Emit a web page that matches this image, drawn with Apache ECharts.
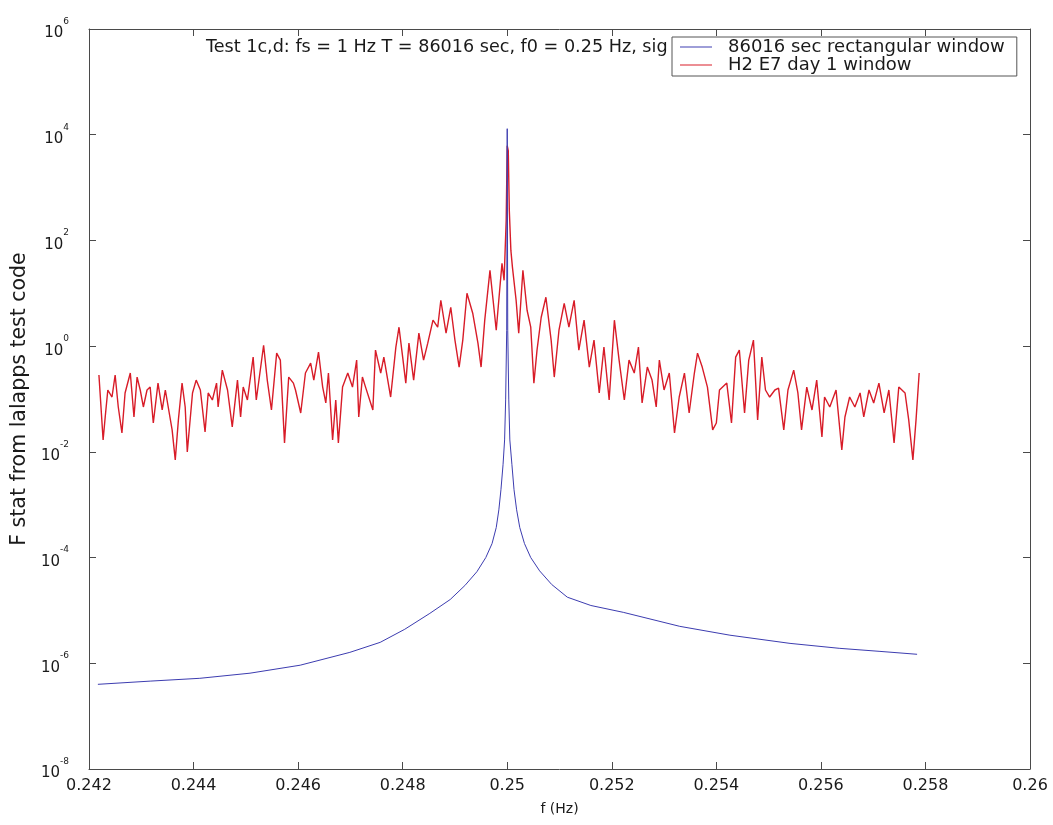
<!DOCTYPE html>
<html>
<head>
<meta charset="utf-8">
<title>F statistic vs frequency</title>
<script src="https://cdn.jsdelivr.net/npm/echarts@6/dist/echarts.min.js"></script>
<style>
  html, body { margin: 0; padding: 0; background: #fff; }
  #chart { width: 1053px; height: 825px; }
</style>
</head>
<body>
<div id="chart"></div>
<script>
// Frequency grid (Hz) and F statistic for the 86016 s rectangular window
const freqRect = [
  0.24217, 0.24317, 0.24412, 0.24508, 0.24604, 0.24699, 0.24757, 0.24804,
  0.24852, 0.24891, 0.24919, 0.24942, 0.24959, 0.24971, 0.24979, 0.24984,
  0.24988, 0.24992, 0.24995, 0.24997, 0.24999, 0.25000, 0.25001, 0.25003,
  0.25005, 0.25009, 0.25013, 0.25018, 0.25024, 0.25033, 0.25045, 0.25062,
  0.25085, 0.25115, 0.25160, 0.25222, 0.25330, 0.25426, 0.25541, 0.25635,
  0.25713, 0.25784
];
const fstatRect = [
  4.0e-7, 4.6e-7, 5.2e-7, 6.5e-7, 9.2e-7, 1.61e-6, 2.49e-6, 4.4e-6,
  8.8e-6, 1.61e-5, 2.96e-5, 5.4e-5, 1.0e-4, 1.84e-4, 3.7e-4, 8.0e-4,
  1.92e-3, 5.7e-3, 0.0168, 0.096, 2.0, 1.3e4, 2.0, 0.096,
  0.0168, 5.7e-3, 1.92e-3, 8.0e-4, 3.7e-4, 1.84e-4, 1.0e-4, 5.6e-5,
  3.1e-5, 1.78e-5, 1.24e-5, 9.2e-6, 5.0e-6, 3.4e-6, 2.38e-6, 1.92e-6,
  1.68e-6, 1.48e-6
];

// Frequency grid (Hz) and F statistic for the H2 E7 day 1 window
const freqDay1 = [
  0.24219, 0.24227, 0.24231, 0.24236, 0.24244, 0.24250, 0.24256, 0.24263,
  0.24269, 0.24279, 0.24286, 0.24292, 0.24298, 0.24304, 0.24311, 0.24317,
  0.24323, 0.24332, 0.24340, 0.24346, 0.24359, 0.24365, 0.24371, 0.24378,
  0.24384, 0.24388, 0.24398, 0.24405, 0.24413, 0.24422, 0.24428, 0.24436,
  0.24444, 0.24447, 0.24455, 0.24465, 0.24474, 0.24484, 0.24490, 0.24495,
  0.24503, 0.24514, 0.24520, 0.24534, 0.24541, 0.24549, 0.24559, 0.24566,
  0.24574, 0.24582, 0.24591, 0.24595, 0.24605, 0.24614, 0.24624, 0.24630,
  0.24639, 0.24647, 0.24653, 0.24658, 0.24666, 0.24672, 0.24677, 0.24685,
  0.24695, 0.24704, 0.24712, 0.24716, 0.24723, 0.24729, 0.24743, 0.24748,
  0.24758, 0.24764, 0.24777, 0.24787, 0.24793, 0.24800, 0.24806, 0.24812,
  0.24821, 0.24831, 0.24840, 0.24848, 0.24858, 0.24867, 0.24873, 0.24883,
  0.24892, 0.24900, 0.24908, 0.24915, 0.24923, 0.24934, 0.24944, 0.24950,
  0.24957, 0.24967, 0.24973, 0.24979, 0.24986, 0.24990, 0.24994, 0.24998,
  0.25000, 0.25002, 0.25004, 0.25007, 0.25010, 0.25017, 0.25022, 0.25030,
  0.25038, 0.25045, 0.25051, 0.25057, 0.25065, 0.25074, 0.25084, 0.25090,
  0.25099, 0.25109, 0.25118, 0.25128, 0.25137, 0.25147, 0.25157, 0.25166,
  0.25176, 0.25185, 0.25195, 0.25205, 0.25214, 0.25224, 0.25233, 0.25243,
  0.25251, 0.25258, 0.25268, 0.25277, 0.25285, 0.25291, 0.25300, 0.25310,
  0.25320, 0.25329, 0.25339, 0.25348, 0.25358, 0.25364, 0.25373, 0.25383,
  0.25393, 0.25400, 0.25406, 0.25420, 0.25429, 0.25437, 0.25444, 0.25454,
  0.25462, 0.25471, 0.25479, 0.25487, 0.25494, 0.25502, 0.25512, 0.25519,
  0.25529, 0.25537, 0.25548, 0.25556, 0.25563, 0.25573, 0.25583, 0.25592,
  0.25602, 0.25607, 0.25617, 0.25629, 0.25640, 0.25646, 0.25655, 0.25665,
  0.25675, 0.25682, 0.25692, 0.25701, 0.25711, 0.25721, 0.25730, 0.25740,
  0.25749, 0.25761, 0.25768, 0.25776, 0.25782, 0.25788
];
const fstatDay1 = [
  0.284, 0.0168, 0.0457, 0.148, 0.109, 0.284, 0.0706, 0.0228,
  0.130, 0.310, 0.0457, 0.260, 0.148, 0.0706, 0.148, 0.168,
  0.0352, 0.200, 0.0620, 0.148, 0.026, 0.00706, 0.0402, 0.200,
  0.0706, 0.0100, 0.130, 0.228, 0.148, 0.0238, 0.130, 0.0958,
  0.200, 0.0706, 0.352, 0.148, 0.0296, 0.228, 0.0457, 0.168,
  0.0958, 0.620, 0.0958, 1.04, 0.228, 0.0620, 0.738, 0.544,
  0.0148, 0.260, 0.200, 0.148, 0.0544, 0.310, 0.478, 0.228,
  0.770, 0.168, 0.0841, 0.310, 0.0168, 0.0958, 0.0148, 0.168,
  0.310, 0.168, 0.544, 0.0457, 0.260, 0.168, 0.0620, 0.840,
  0.310, 0.620, 0.109, 0.958, 2.28, 0.620, 0.200, 1.14,
  0.228, 1.76, 0.544, 1.14, 3.10, 2.28, 7.38, 1.76,
  5.44, 1.30, 0.402, 1.30, 10.0, 4.20, 1.14, 0.402,
  3.10, 27.2, 7.38, 2.0, 13.0, 36.8, 17.6, 238,
  6200, 5000, 368, 64.7, 30.9, 7.38, 1.76, 27.2,
  4.78, 2.28, 0.200, 0.840, 3.52, 8.41, 1.30, 0.260,
  2.0, 6.47, 2.28, 7.38, 0.840, 3.10, 0.402, 1.30,
  0.130, 0.958, 0.0958, 3.10, 0.544, 0.0958, 0.544, 0.310,
  0.958, 0.0841, 0.402, 0.228, 0.0706, 0.544, 0.148, 0.310,
  0.0228, 0.109, 0.310, 0.0544, 0.310, 0.738, 0.402, 0.168,
  0.0260, 0.0352, 0.148, 0.200, 0.0352, 0.620, 0.840, 0.0544,
  0.544, 1.30, 0.0402, 0.620, 0.148, 0.109, 0.148, 0.160,
  0.0260, 0.148, 0.352, 0.130, 0.0260, 0.168, 0.0620, 0.228,
  0.0192, 0.109, 0.0706, 0.148, 0.0109, 0.0457, 0.109, 0.0706,
  0.130, 0.0457, 0.148, 0.0841, 0.200, 0.0544, 0.148, 0.0148,
  0.168, 0.130, 0.0402, 0.00706, 0.0402, 0.310
];

// Axis ticks
const freqTicks = { min: 0.242, max: 0.26, step: 0.002 };
const fstatExpTicks = { min: -8, max: 6, step: 2 };

const seriesNames = ['86016 sec rectangular window', 'H2 E7 day 1 window'];
const titleText = 'Test 1c,d: fs = 1 Hz T = 86016 sec, f0 = 0.25 Hz, sig';

const FONT = 'DejaVu Sans, Liberation Sans, Arial, sans-serif';
const AXIS_COLOR = '#4a4a4a';
const TEXT_COLOR = '#1a1a1a';
const RED = '#d81c28';
const BLUE = '#3c3cb0';

function pairs(xs, ys) {
  return xs.map((x, i) => [x, ys[i]]);
}

function freqLabel(v) {
  return String(parseFloat(Number(v).toFixed(3)));
}

function powLabel(v) {
  const e = Math.round(Math.log10(v));
  return '{b|10}{s|' + e + '}';
}

const chart = echarts.init(document.getElementById('chart'), null, { renderer: 'canvas' });

const baseX = {
  type: 'value',
  min: freqTicks.min,
  max: freqTicks.max,
  interval: freqTicks.step,
  splitLine: { show: false },
  axisLine: { show: true, onZero: false, lineStyle: { color: AXIS_COLOR, width: 1 } },
  axisTick: { show: true, inside: true, length: 7, lineStyle: { color: AXIS_COLOR } }
};
const baseY = {
  type: 'log',
  logBase: 10,
  min: Math.pow(10, fstatExpTicks.min),
  max: Math.pow(10, fstatExpTicks.max),
  interval: fstatExpTicks.step,
  splitLine: { show: false },
  axisLine: { show: true, onZero: false, lineStyle: { color: AXIS_COLOR, width: 1 } },
  axisTick: { show: true, inside: true, length: 7, lineStyle: { color: AXIS_COLOR } },
  minorTick: { show: false }
};

chart.setOption({
  animation: false,
  backgroundColor: '#ffffff',
  textStyle: { fontFamily: FONT },
  title: {
    text: titleText,
    left: 206,
    top: 38,
    padding: 0,
    textStyle: { fontFamily: FONT, fontSize: 17.6, fontWeight: 'normal', color: TEXT_COLOR }
  },
  legend: {
    data: seriesNames,
    orient: 'vertical',
    left: 672,
    top: 37,
    z: 20,
    icon: 'rect',
    padding: [1, 12, 2, 8],
    itemGap: 0,
    itemWidth: 32,
    itemHeight: 1,
    backgroundColor: '#ffffff',
    borderColor: '#555',
    borderWidth: 1,
    borderRadius: 0,
    textStyle: { fontFamily: FONT, fontSize: 18, lineHeight: 16, color: TEXT_COLOR, padding: [0, 0, 0, 11] }
  },
  grid: { left: 89, right: 23, top: 29, bottom: 56, containLabel: false },
  xAxis: [
    Object.assign({}, baseX, {
      position: 'bottom',
      name: 'f (Hz)',
      nameLocation: 'middle',
      nameGap: 33,
      nameTextStyle: { fontFamily: FONT, fontSize: 14, color: TEXT_COLOR },
      axisLabel: {
        margin: 9,
        fontFamily: FONT,
        fontSize: 16,
        color: TEXT_COLOR,
        formatter: freqLabel,
        showMinLabel: true,
        showMaxLabel: true
      }
    }),
    Object.assign({}, baseX, { position: 'top', axisLabel: { show: false } })
  ],
  yAxis: [
    Object.assign({}, baseY, {
      position: 'left',
      name: 'F stat from lalapps test code',
      nameLocation: 'middle',
      nameGap: 56,
      nameRotate: 90,
      nameTextStyle: { fontFamily: FONT, fontSize: 20.5, color: TEXT_COLOR },
      axisLabel: {
        margin: 20,
        fontFamily: FONT,
        color: TEXT_COLOR,
        formatter: powLabel,
        showMinLabel: true,
        showMaxLabel: true,
        rich: {
          b: { fontFamily: FONT, fontSize: 15, lineHeight: 24, verticalAlign: 'bottom', color: TEXT_COLOR },
          s: { fontFamily: FONT, fontSize: 9, lineHeight: 10, verticalAlign: 'top', color: TEXT_COLOR }
        }
      }
    }),
    Object.assign({}, baseY, { position: 'right', axisLabel: { show: false } })
  ],
  series: [
    {
      name: seriesNames[1],
      type: 'line',
      xAxisIndex: 0,
      yAxisIndex: 0,
      data: pairs(freqDay1, fstatDay1),
      showSymbol: false,
      symbol: 'none',
      lineStyle: { color: RED, width: 1.4 },
      itemStyle: { color: RED },
      z: 2
    },
    {
      name: seriesNames[0],
      type: 'line',
      xAxisIndex: 0,
      yAxisIndex: 0,
      data: pairs(freqRect, fstatRect),
      showSymbol: false,
      symbol: 'none',
      lineStyle: { color: BLUE, width: 1 },
      itemStyle: { color: BLUE },
      z: 3
    }
  ]
});
</script>
</body>
</html>
